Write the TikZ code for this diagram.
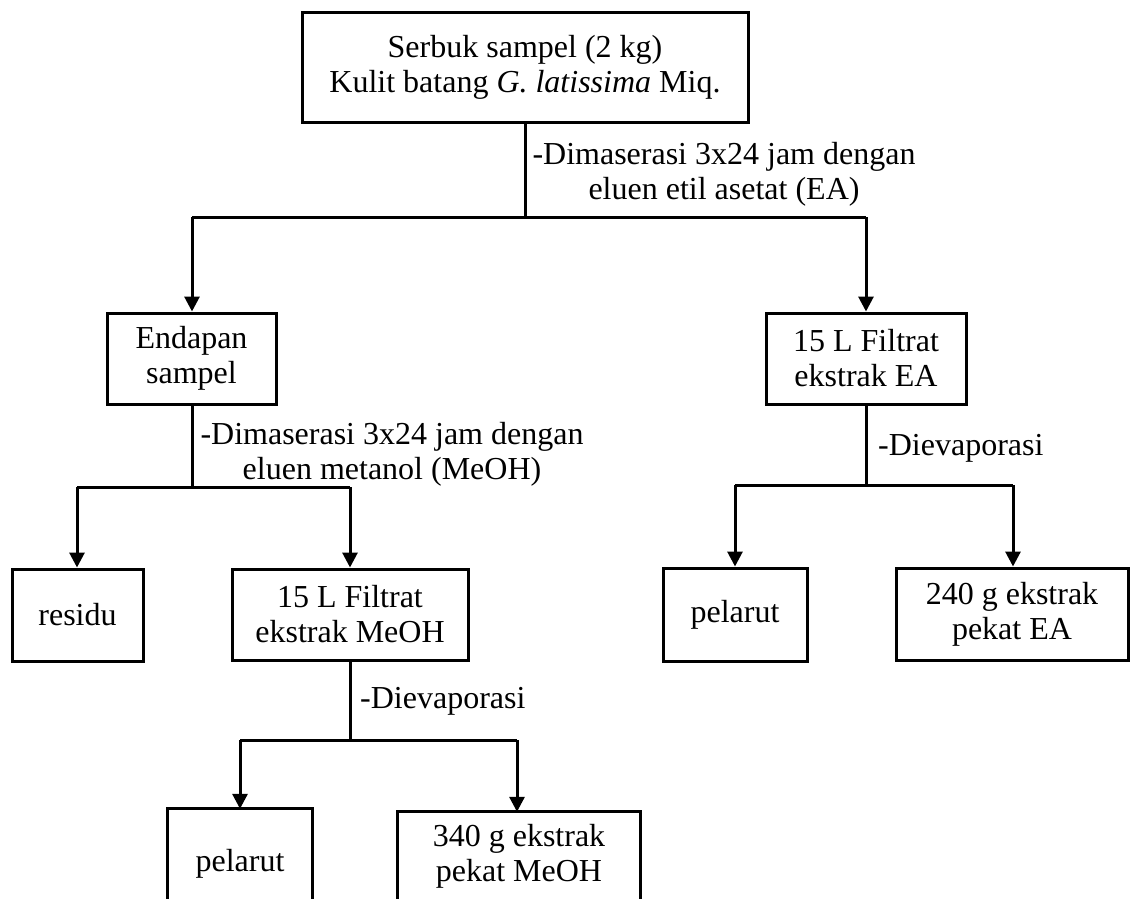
\documentclass[tikz,border=0pt]{standalone}
\usepackage{fontspec}
\setmainfont{Liberation Serif}
\usetikzlibrary{arrows.meta}
\begin{document}
\begin{tikzpicture}[x=1pt,y=-1pt,
  box/.style={draw,line width=3pt,align=center,inner sep=0pt,font=\fontsize{32}{35}\selectfont},
  openbox/.style={align=center,inner sep=0pt,font=\fontsize{32}{35}\selectfont},
  ln/.style={line width=3pt},
  arr/.style={line width=3pt,-{Triangle[width=15pt,length=15pt]}},
  lbl/.style={align=center,inner sep=0pt,font=\fontsize{32}{35}\selectfont}]
\useasboundingbox (0,0) rectangle (1132,899);
\clip (0,0) rectangle (1132,899);
\node[box,minimum width=446pt,minimum height=109pt] (top) at (525,67.5) {Serbuk sampel (2 kg)\\Kulit batang \textit{G. latissima} Miq.};
\node[box,minimum width=169pt,minimum height=91pt] (endapan) at (191.5,358.5) {Endapan\\sampel};
\node[box,minimum width=200pt,minimum height=91pt] (fea) at (866,358.5) {15 L Filtrat\\ekstrak EA};
\node[box,minimum width=131pt,minimum height=92pt] (residu) at (77.5,615) {residu};
\node[box,minimum width=236pt,minimum height=91pt] (fmeoh) at (350,614.5) {15 L Filtrat\\ekstrak MeOH};
\node[box,minimum width=144pt,minimum height=93pt] (pelb) at (735,614.5) {pelarut};
\node[box,minimum width=232pt,minimum height=92pt] (ea240) at (1012,614) {240 g ekstrak\\pekat EA};
\node[openbox,minimum width=144pt,minimum height=110pt] (pela) at (240,864) {pelarut};
\node[openbox,minimum width=242pt,minimum height=88pt] (meoh340) at (519,856) {340 g ekstrak\\pekat MeOH};
\draw[ln] (pela.north west |- 0,910) -- (pela.north west) -- (pela.north east) -- (pela.north east |- 0,910);
\draw[ln] (meoh340.north west |- 0,910) -- (meoh340.north west) -- (meoh340.north east) -- (meoh340.north east |- 0,910);
% level 1
\coordinate (j1) at (525,217);
\coordinate (j1l) at (192,217);
\coordinate (j1r) at (866,217);
\draw[ln] (top.south -| j1) -- (j1);
\draw[ln] (j1l) -- (j1r);
\draw[arr] (j1l) -- (j1l |- endapan.north);
\draw[arr] (j1r) -- (j1r |- fea.north);
\node[lbl] (l1) at (724,174) {-Dimaserasi 3x24 jam dengan\\eluen etil asetat (EA)};
% level 2 left
\coordinate (j2) at (192,487);
\coordinate (j2l) at (77,487);
\coordinate (j2r) at (350,487);
\draw[ln] (endapan.south -| j2) -- (j2);
\draw[ln] (j2l) -- (j2r);
\draw[arr] (j2l) -- (j2l |- residu.north);
\draw[arr] (j2r) -- (j2r |- fmeoh.north);
\node[lbl] (l2) at (392,454) {-Dimaserasi 3x24 jam dengan\\eluen metanol (MeOH)};
% level 2 right
\coordinate (j3) at (866,485);
\coordinate (j3l) at (735,485);
\coordinate (j3r) at (1013,485);
\draw[ln] (fea.south -| j3) -- (j3);
\draw[ln] (j3l) -- (j3r);
\draw[arr] (j3l) -- (j3l |- pelb.north);
\draw[arr] (j3r) -- (j3r |- ea240.north);
\node[lbl,anchor=base west] (l3) at (878,455) {-Dievaporasi};
% level 3
\coordinate (j4) at (350,740);
\coordinate (j4l) at (240,740);
\coordinate (j4r) at (517,740);
\draw[ln] (fmeoh.south -| j4) -- (j4);
\draw[ln] (j4l) -- (j4r);
\draw[arr] (j4l) -- (j4l |- pela.north);
\draw[arr] (j4r) -- (j4r |- meoh340.north);
\node[lbl,anchor=base west] (l4) at (360,708) {-Dievaporasi};
\end{tikzpicture}
\end{document}
